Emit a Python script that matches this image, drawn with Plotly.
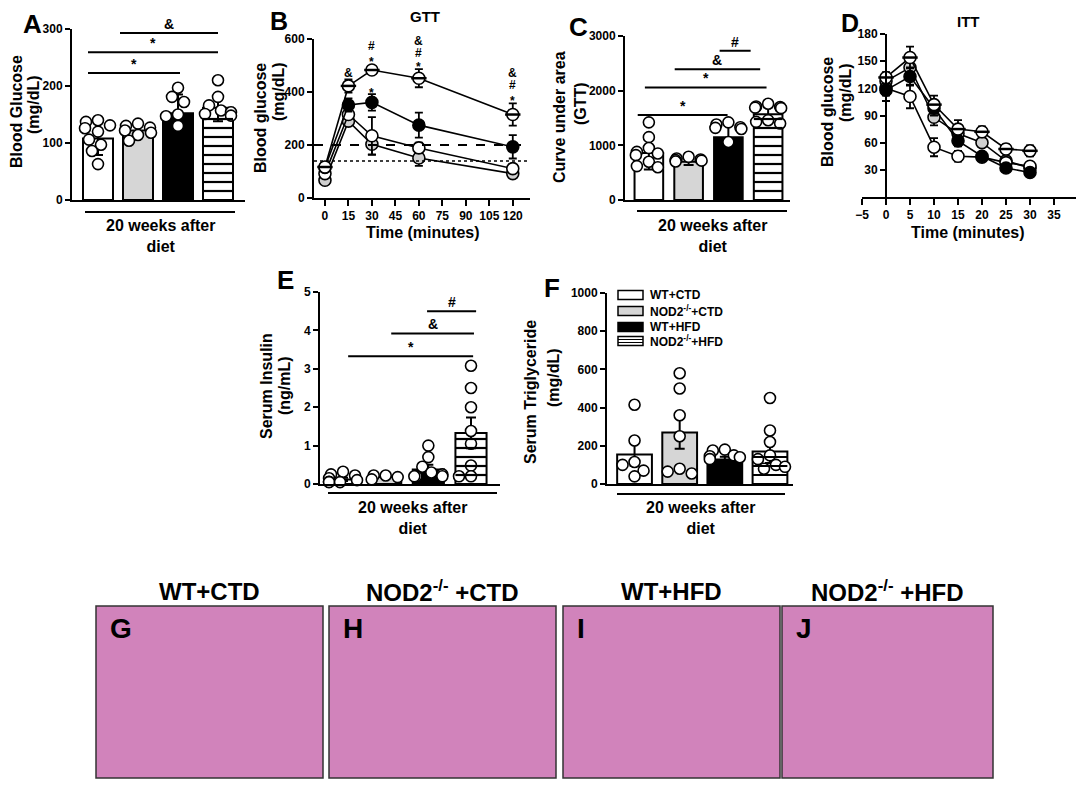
import numpy as np
import plotly.graph_objects as go

# page is rendered with the browser's default 8px body margin
OFF = 8
W, H = 1084 - OFF, 788 - OFF
FONT = "Liberation Sans"

# ---------------- data ----------------
groups = ["WT+CTD", "NOD2<sup>-/-</sup>+CTD", "WT+HFD", "NOD2<sup>-/-</sup>+HFD"]

# A: fasting blood glucose (mg/dL), mean +/- SD
glucose_mean = [108, 122, 152, 162]
glucose_sd = [29, 10, 33, 24]
glucose_pts = [[140, 137, 131, 126, 120, 106, 97, 86, 63],
               [134, 130, 127, 122, 118, 114, 104],
               [197, 181, 172, 150, 147, 130],
               [210, 181, 166, 157, 154, 151, 148]]
glucose_sig = [(-0.25, 2.05, 223, "*"), (-0.25, 3.0, 259, "*"), (0.55, 3.0, 293, "&")]

# B: GTT time course
gtt_time = [0, 15, 30, 60, 120]
gtt_wt_ctd = [92, 315, 235, 189, 111]
gtt_wt_ctd_err = [10, 15, 70, 20, 10]
gtt_nod_ctd = [67, 290, 203, 151, 92]
gtt_nod_ctd_err = [8, 15, 40, 30, 8]
gtt_wt_hfd = [115, 351, 361, 275, 193]
gtt_wt_hfd_err = [10, 25, 31, 47, 44]
gtt_nod_hfd = [117, 423, 483, 452, 315]
gtt_nod_hfd_err = [10, 25, 5, 34, 42]
gtt_ref_dash = 200
gtt_ref_dot = 140
gtt_sig = [(15, 471, "&"),
           (30, 620, "&"), (30, 572, "#"), (30, 528, "*"), (30, 410, "*"),
           (60, 594, "&"), (60, 549, "#"), (60, 510, "*"),
           (120, 471, "&"), (120, 427, "#"), (120, 382, "*")]

# C: GTT area under curve, mean +/- SD
auc_mean = [860, 700, 1150, 1570]
auc_sd = [300, 60, 285, 125]
auc_pts = [[1420, 1150, 950, 880, 850, 820, 700, 620, 600],
           [790, 760, 740, 730, 720, 705],
           [1420, 1380, 1330, 1320, 1300, 1060],
           [1760, 1710, 1700, 1690, 1680, 1460, 1430, 1400]]
auc_sig = [(-0.28, 1.98, 1555, "*"), (-0.1, 2.96, 2060, "*"),
           (0.65, 2.8, 2390, "&"), (1.78, 2.56, 2730, "#")]

# D: ITT time course
itt_time = [0, 5, 10, 15, 20, 25, 30]
itt_wt_ctd = [120, 111, 55, 45, 44, 38, 34]
itt_wt_ctd_err = [8, 13, 10, 6, 4, 4, 4]
itt_nod_ctd = [128, 143, 88, 70, 60, 40, 32]
itt_nod_ctd_err = [6, 10, 9, 6, 5, 4, 4]
itt_wt_hfd = [118, 133, 98, 62, 45, 32, 27]
itt_wt_hfd_err = [12, 10, 8, 6, 4, 3, 3]
itt_nod_hfd = [132, 154, 102, 75, 72, 53, 51]
itt_nod_hfd_err = [6, 12, 10, 10, 6, 5, 6]

# E: serum insulin (ng/mL), mean +/- SEM
ins_mean = [0.12, 0.18, 0.38, 1.33]
ins_sem = [0.04, 0.03, 0.12, 0.40]
ins_pts = [[0.32, 0.25, 0.22, 0.15, 0.10, 0.06, 0.05, 0.05],
           [0.22, 0.22, 0.18, 0.12],
           [1.0, 0.7, 0.45, 0.3, 0.25, 0.2, 0.2, 0.2],
           [3.08, 2.5, 2.0, 1.38, 1.05, 0.48, 0.2, 0.2]]
ins_sig = [(0.12, 3.05, 3.33, "*"), (1.13, 3.07, 3.92, "&"), (1.97, 3.12, 4.5, "#")]

# F: serum triglyceride (mg/dL), mean +/- SEM
tg_mean = [155, 270, 128, 170]
tg_sem = [60, 85, 15, 60]
tg_pts = [[415, 228, 115, 100, 70, 40],
          [580, 500, 360, 250, 80, 65, 55],
          [180, 175, 150, 145, 140, 130],
          [450, 280, 220, 150, 130, 100, 90, 80]]

histo_titles = ["WT+CTD", "NOD2<sup>-/-</sup> +CTD", "WT+HFD", "NOD2<sup>-/-</sup> +HFD"]
histo_letters = ["G", "H", "I", "J"]

# ---------------- styles ----------------
bar_colors = ["white", "#d6d6d6", "black", "white"]
bar_striped = [False, False, False, True]
marker_fill = {"wt_ctd": "white", "nod_ctd": "#d0d0d0", "wt_hfd": "black", "nod_hfd": "white"}


def px(x):
    return (x - OFF) / W


def py(y):
    return 1 - (y - OFF) / H


TICKFONT = dict(family=FONT, size=12, color="black", weight="bold")

fig = go.Figure()
layout = dict(width=W, height=H, margin=dict(l=0, r=0, t=0, b=0, pad=0, autoexpand=False),
              paper_bgcolor="white", plot_bgcolor="white", showlegend=False,
              template="none", font=dict(family=FONT, color="black"))
annotations = []
shapes = []


def yaxis(top, bottom, rng, tickvals, **kw):
    d = dict(domain=[py(bottom), py(top)], range=rng, tickvals=tickvals,
             showline=True, linecolor="black", linewidth=2, ticks="outside",
             ticklen=5, tickwidth=2, tickcolor="black", tickfont=TICKFONT,
             showgrid=False, zeroline=False, fixedrange=True, automargin=False)
    d.update(kw)
    return d


def xaxis(left, right, rng, anchor, tickvals=None):
    d = dict(domain=[px(left), px(right)], range=rng, anchor=anchor,
             showline=True, linecolor="black", linewidth=2, showgrid=False,
             zeroline=False, fixedrange=True, automargin=False)
    if tickvals is None:
        d.update(showticklabels=False, ticks="")
    else:
        d.update(tickvals=tickvals, ticks="outside", ticklen=6, tickwidth=2,
                 tickcolor="black", tickfont=TICKFONT)
    return d


def ann(text, x, y, size=15, angle=0, xanchor="center", yanchor="middle", **kw):
    annotations.append(dict(text=text, x=px(x), y=py(y), xref="paper", yref="paper",
                            showarrow=False, textangle=angle, xanchor=xanchor,
                            yanchor=yanchor,
                            font=dict(family=FONT, size=size, color="black", weight="bold"),
                            **kw))


def swarm(vals, xscale, yscale, maxw, diam=10.5):
    """Deterministic beeswarm: offsets (in x units) so circles don't overlap."""
    placed = []
    out = [0.0] * len(vals)
    order = np.argsort(vals)[::-1]
    step = 3.0
    for i in order:
        vy = vals[i] * yscale
        k = 0
        while True:
            cands = [0.0] if k == 0 else [-k * step, k * step]
            done = False
            for c in cands:
                if abs(c) > maxw:
                    continue
                if all((c - ox) ** 2 + (vy - oy) ** 2 >= diam ** 2 for ox, oy in placed):
                    out[i] = c / xscale
                    placed.append((c, vy))
                    done = True
                    break
            if done:
                break
            k += 1
            if k * step > maxw:
                c = ((-1) ** len(placed)) * maxw
                out[i] = c / xscale
                placed.append((c, vy))
                break
    return out


def bar_panel(n, means, errs, pts, width, xscale, yscale, maxw):
    xa = "x" if n == 1 else f"x{n}"
    ya = "y" if n == 1 else f"y{n}"
    for i in range(4):
        fig.add_trace(go.Bar(
            x=[i], y=[means[i]], width=width, xaxis=xa, yaxis=ya,
            marker=dict(color=bar_colors[i], line=dict(color="black", width=2)),
            error_y=dict(type="data", array=[errs[i]], color="black", thickness=2, width=5),
        ))
        if bar_striped[i]:
            # horizontal stripes inside the striped bar, every ~9 px
            step = 9.0 / yscale
            yv = step
            while yv < means[i] - step * 0.4:
                shapes.append(dict(type="line", xref=xa, yref=ya, x0=i - width / 2, x1=i + width / 2,
                                   y0=yv, y1=yv, line=dict(color="black", width=2.2), layer="above"))
                yv += step
    xs, ys = [], []
    for i, p in enumerate(pts):
        off = swarm(p, xscale, yscale, maxw)
        xs += [i + o for o in off]
        ys += list(p)
    fig.add_trace(go.Scatter(
        x=xs, y=ys, mode="markers", xaxis=xa, yaxis=ya, cliponaxis=False,
        marker=dict(symbol="circle", size=11, color="white",
                    line=dict(color="black", width=1.6))))


def sig_brackets(n, sig, size=14):
    xa = "x" if n == 1 else f"x{n}"
    ya = "y" if n == 1 else f"y{n}"
    for x0, x1, yv, t in sig:
        shapes.append(dict(type="line", xref=xa, yref=ya, x0=x0, x1=x1, y0=yv, y1=yv,
                           line=dict(color="black", width=2)))
        annotations.append(dict(text=t, x=(x0 + x1) / 2, y=yv, xref=xa, yref=ya,
                                showarrow=False, yanchor="bottom", yshift=-1,
                                font=dict(family=FONT, size=size, color="black",
                                          weight="bold")))


def under_bracket(x0, x1, y, cx, ty):
    shapes.append(dict(type="line", xref="paper", yref="paper", x0=px(x0), x1=px(x1),
                       y0=py(y), y1=py(y), line=dict(color="black", width=2)))
    ann("20 weeks after<br>diet", cx, ty, size=16, yanchor="top")


def line_panel(n, t, series):
    xa = f"x{n}"
    ya = f"y{n}"
    for vals, errs, key in series:
        fig.add_trace(go.Scatter(
            x=t, y=vals, xaxis=xa, yaxis=ya, mode="lines+markers", cliponaxis=False,
            line=dict(color="black", width=1.6),
            marker=dict(symbol="circle", size=12, color=marker_fill[key],
                        line=dict(color="black", width=1.6)),
            error_y=dict(type="data", array=errs, color="black", thickness=1.8, width=4)))
        if key == "nod_hfd":
            fig.add_trace(go.Scatter(
                x=t, y=vals, xaxis=xa, yaxis=ya, mode="markers", cliponaxis=False,
                marker=dict(symbol="line-ew", size=11,
                            line=dict(color="black", width=2.5))))


# ---------------- A ----------------
layout["xaxis"] = xaxis(72, 245, [-0.65, 3.675], "y")
layout["yaxis"] = yaxis(29, 200, [0, 300], [0, 100, 200, 300], anchor="x")
bar_panel(1, glucose_mean, glucose_sd, glucose_pts, 0.75, 40.0, 171 / 300, 13)
sig_brackets(1, glucose_sig)
under_bracket(85, 235, 212, 160, 215)
ann("Blood Glucose", 17, 112, size=16, angle=-90)
ann("(mg/dL)", 33, 105, size=16, angle=-90)
ann("A", 32, 24, size=26)

# ---------------- B ----------------
layout["xaxis2"] = xaxis(314, 530, [-7, 131], "y2", tickvals=list(range(0, 121, 15)))
layout["yaxis2"] = yaxis(39, 198, [0, 600], [0, 200, 400, 600], anchor="x2")
shapes.append(dict(type="line", xref="x2 domain", yref="y2", x0=0, x1=1,
                   y0=gtt_ref_dash, y1=gtt_ref_dash, line=dict(color="black", width=2, dash="dash")))
shapes.append(dict(type="line", xref="x2 domain", yref="y2", x0=0, x1=1,
                   y0=gtt_ref_dot, y1=gtt_ref_dot, line=dict(color="black", width=1.5, dash="dot")))
line_panel(2, gtt_time, [(gtt_nod_ctd, gtt_nod_ctd_err, "nod_ctd"),
                         (gtt_wt_ctd, gtt_wt_ctd_err, "wt_ctd"),
                         (gtt_wt_hfd, gtt_wt_hfd_err, "wt_hfd"),
                         (gtt_nod_hfd, gtt_nod_hfd_err, "nod_hfd")])
for tx, yv, t in gtt_sig:
    annotations.append(dict(text=t, x=tx, y=yv, xref="x2", yref="y2", showarrow=False,
                            yshift=-4 if t == "*" else 0,
                            font=dict(family=FONT, size=12, color="black", weight="bold")))
ann("GTT", 425, 17, size=15)
ann("Time (minutes)", 423, 233, size=16)
ann("Blood glucose", 261, 118, size=16, angle=-90)
ann("(mg/dL)", 278, 92, size=16, angle=-90)
ann("B", 279, 21, size=25)

# ---------------- C ----------------
layout["xaxis3"] = xaxis(625, 790, [-0.6, 3.55], "y3")
layout["yaxis3"] = yaxis(36, 200, [0, 3000], [0, 1000, 2000, 3000], anchor="x3")
bar_panel(3, auc_mean, auc_sd, auc_pts, 0.72, 39.8, 164 / 3000, 13)
sig_brackets(3, auc_sig)
under_bracket(637, 787, 211, 712, 215)
ann("Curve under area", 560, 117, size=16, angle=-90)
ann("(GTT)", 580, 104, size=16, angle=-90)
ann("C", 578, 27, size=26)

# ---------------- D ----------------
layout["xaxis4"] = xaxis(862, 1078, [-5, 40], "y4", tickvals=list(range(-5, 41, 5)))
layout["yaxis4"] = yaxis(34, 197, [0, 180], [30, 60, 90, 120, 150, 180],
                         anchor="free", position=px(886))
line_panel(4, itt_time, [(itt_nod_ctd, itt_nod_ctd_err, "nod_ctd"),
                         (itt_wt_ctd, itt_wt_ctd_err, "wt_ctd"),
                         (itt_wt_hfd, itt_wt_hfd_err, "wt_hfd"),
                         (itt_nod_hfd, itt_nod_hfd_err, "nod_hfd")])
ann("ITT", 968, 21, size=15)
ann("Time (minutes)", 968, 233, size=16)
ann("Blood glucose", 828, 112, size=16, angle=-90)
ann("(mg/dL)", 845, 93, size=16, angle=-90)
ann("D", 850, 23, size=25)

# ---------------- E ----------------
layout["xaxis5"] = xaxis(320, 500, [-0.54, 3.68], "y5")
layout["yaxis5"] = yaxis(292, 484, [0, 5], [0, 1, 2, 3, 4, 5], anchor="x5")
bar_panel(5, ins_mean, ins_sem, ins_pts, 0.73, 42.65, 192 / 5, 14)
sig_brackets(5, ins_sig)
under_bracket(328, 497, 493, 412, 497)
ann("Serum Insulin", 266, 386, size=16, angle=-90)
ann("(ng/mL)", 284, 386, size=16, angle=-90)
ann("E", 285, 280, size=26)

# ---------------- F ----------------
layout["xaxis6"] = xaxis(607, 793, [-0.61, 3.51], "y6")
layout["yaxis6"] = yaxis(293, 484, [0, 1000], [0, 200, 400, 600, 800, 1000], anchor="x6")
bar_panel(6, tg_mean, tg_sem, tg_pts, 0.77, 45.1, 191 / 1000, 15)
under_bracket(617, 785, 494, 700, 497)
ann("Serum Triglyceride", 530, 392, size=16, angle=-90)
ann("(mg/dL)", 553, 378, size=16, angle=-90)
ann("F", 552, 288, size=26)

# legend (drawn manually in F)
leg_rows = [295, 311, 327, 341]
for i, (g, c) in enumerate(zip(groups, bar_colors)):
    yc = leg_rows[i]
    shapes.append(dict(type="rect", xref="paper", yref="paper", x0=px(618), x1=px(643),
                       y0=py(yc + 4.5), y1=py(yc - 4.5), fillcolor=c,
                       line=dict(color="black", width=1.5)))
    if bar_striped[i]:
        for dy in (-1.5, 1.5):
            shapes.append(dict(type="line", xref="paper", yref="paper", x0=px(618), x1=px(643),
                               y0=py(yc + dy), y1=py(yc + dy), line=dict(color="black", width=1)))
    ann(g, 648, yc, size=12, xanchor="left")

# ---------------- histology ----------------
histo_boxes = [(96, 323), (329, 556), (563, 780), (782, 993)]
for (x0, x1), t, l in zip(histo_boxes, histo_titles, histo_letters):
    shapes.append(dict(type="rect", xref="paper", yref="paper", x0=px(x0), x1=px(x1),
                       y0=py(778), y1=py(606), fillcolor="#d183bb",
                       line=dict(color="#333333", width=1.5)))
    ann(t, (x0 + x1) / 2, 591, size=24)
    ann(l, x0 + 12, 628, size=28, xanchor="left")

layout["annotations"] = annotations
layout["shapes"] = shapes
fig.update_layout(**layout)
fig.write_html("out.html")
